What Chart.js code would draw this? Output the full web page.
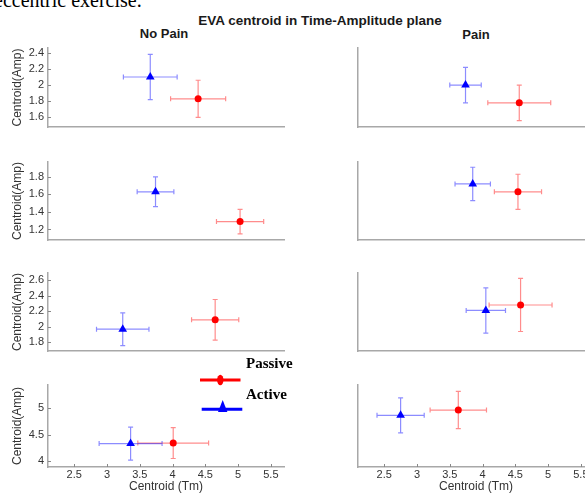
<!DOCTYPE html>
<html>
<head>
<meta charset="utf-8">
<script src="https://cdn.jsdelivr.net/npm/chart.js@4.4.0/dist/chart.umd.min.js"></script>
<style>
  html, body { margin: 0; padding: 0; background: #fff; }
  body { width: 585px; height: 494px; overflow: hidden; position: relative; font-family: "Liberation Sans", Arial, sans-serif; }
  .panel { position: absolute; }
  .txt { position: absolute; white-space: nowrap; color: #1a1a1a; }
  #legend { position: absolute; left: 190px; top: 350px; z-index: 5; }
</style>
</head>
<body>
<div class="txt" style="left:-6px; top:-10px; font:20px/20px 'Liberation Serif', serif; color:#000;">eccentric exercise.</div>
<div class="txt" style="left:120px; width:400px; top:13px; text-align:center; font:bold 13.5px/16px 'Liberation Sans', Arial, sans-serif;">EVA centroid in Time-Amplitude plane</div>
<div class="txt" style="left:64px; width:200px; top:26px; text-align:center; font:bold 13px/16px 'Liberation Sans', Arial, sans-serif;">No Pain</div>
<div class="txt" style="left:376px; width:200px; top:27px; text-align:center; font:bold 13px/16px 'Liberation Sans', Arial, sans-serif;">Pain</div>

<svg id="legend" width="110" height="66">
  <line x1="10" y1="30" x2="50.5" y2="30" stroke="#ff0000" stroke-width="3"/>
  <ellipse cx="30.3" cy="30" rx="3.2" ry="5.3" fill="#ff0000"/>
  <text x="56" y="18" font-family="'Liberation Serif', serif" font-weight="bold" font-size="15">Passive</text>
  <line x1="11.7" y1="59.3" x2="52.3" y2="59.3" stroke="#0000ff" stroke-width="3"/>
  <polygon points="32.7,50 28,62 37.4,62" fill="#0000ff"/>
  <text x="56" y="49" font-family="'Liberation Serif', serif" font-weight="bold" font-size="15">Active</text>
</svg>

<script>
// panels are numbered row by row: 0 = No Pain row 1, 1 = Pain row 1, ...
const activeX    = [3.66, 3.74, 3.74, 3.85, 3.24, 4.05, 3.36, 2.75];
const activeY    = [2.10, 2.00, 1.63, 1.72, 1.97, 2.21, 4.33, 4.86];
const activeXErr = [0.41, 0.24, 0.28, 0.27, 0.40, 0.30, 0.48, 0.36];
const activeYErr = [0.28, 0.22, 0.17, 0.19, 0.21, 0.29, 0.31, 0.33];

const passiveX    = [4.39, 4.56, 5.03, 4.54, 4.65, 4.58, 4.01, 3.63];
const passiveY    = [1.83, 1.78, 1.29, 1.63, 2.09, 2.28, 4.34, 4.96];
const passiveXErr = [0.42, 0.48, 0.36, 0.36, 0.36, 0.48, 0.54, 0.43];
const passiveYErr = [0.23, 0.22, 0.14, 0.20, 0.26, 0.34, 0.29, 0.35];

// axis ranges and tick labels
const xMin = 2.1, xMax = 5.7;
const xTicks = [2.5, 3, 3.5, 4, 4.5, 5, 5.5];
const yMin = [1.48, 1.08, 1.69, 3.89];
const yMax = [2.46, 1.97, 2.69, 5.43];
const yTicks = [
  [1.6, 1.8, 2, 2.2, 2.4],
  [1.2, 1.4, 1.6, 1.8],
  [1.8, 2, 2.2, 2.4, 2.6],
  [4, 4.5, 5]
];

// layout
const colLeft = [0, 300];
const yAxisW = [48, 58];
const plotW = 236;
const areaTop = [48, 162, 273, 385];
const areaBottom = [128, 241, 352, 467];
const axisColor = '#a8a8a8';

Chart.defaults.font.family = "'Liberation Sans', Arial, sans-serif";

// draws the error crosses under the markers
const errorBars = {
  id: 'errorBars',
  beforeDatasetsDraw(chart) {
    const { ctx, scales: { x, y } } = chart;
    const cap = 2.5;
    chart.data.datasets.forEach(ds => {
      ds.data.forEach(p => {
        const px = x.getPixelForValue(p.x), py = y.getPixelForValue(p.y);
        const x0 = x.getPixelForValue(p.x - p.xErr), x1 = x.getPixelForValue(p.x + p.xErr);
        const y0 = y.getPixelForValue(p.y - p.yErr), y1 = y.getPixelForValue(p.y + p.yErr);
        ctx.save();
        ctx.strokeStyle = ds.errColor;
        ctx.lineWidth = 1.2;
        ctx.beginPath();
        ctx.moveTo(x0, py); ctx.lineTo(x1, py);
        ctx.moveTo(px, y0); ctx.lineTo(px, y1);
        ctx.moveTo(x0, py - cap); ctx.lineTo(x0, py + cap);
        ctx.moveTo(x1, py - cap); ctx.lineTo(x1, py + cap);
        ctx.moveTo(px - cap, y0); ctx.lineTo(px + cap, y0);
        ctx.moveTo(px - cap, y1); ctx.lineTo(px + cap, y1);
        ctx.stroke();
        ctx.restore();
      });
    });
  }
};

// small ticks pointing into the plot, matlab style
const inwardTicks = {
  id: 'inwardTicks',
  afterDraw(chart) {
    const { ctx, chartArea: a, scales: { x, y } } = chart;
    ctx.save();
    ctx.strokeStyle = '#888';
    ctx.lineWidth = 1;
    ctx.beginPath();
    if (x.options.ticks.display) {
      x.ticks.forEach(t => {
        const px = Math.round(x.getPixelForValue(t.value)) + 0.5;
        ctx.moveTo(px, a.bottom); ctx.lineTo(px, a.bottom - 3);
      });
    }
    if (y.options.ticks.display) {
      y.ticks.forEach(t => {
        const py = Math.round(y.getPixelForValue(t.value)) + 0.5;
        ctx.moveTo(a.left, py); ctx.lineTo(a.left + 3, py);
      });
    }
    ctx.stroke();
    ctx.restore();
  }
};

const fmt = v => String(Math.round(v * 100) / 100);

function makePanel(i) {
  const r = Math.floor(i / 2), c = i % 2;
  const bottomRow = r === 3;
  const padTop = 8;
  const top = areaTop[r] - padTop;
  const height = bottomRow ? 494 - top : areaBottom[r] - top + 4;
  const xH = bottomRow ? 494 - areaBottom[r] : 0;
  const width = 300;

  const wrap = document.createElement('div');
  wrap.className = 'panel';
  wrap.style.left = colLeft[c] + 'px';
  wrap.style.top = top + 'px';
  wrap.style.width = width + 'px';
  wrap.style.height = height + 'px';
  const canvas = document.createElement('canvas');
  wrap.appendChild(canvas);
  document.body.appendChild(wrap);

  new Chart(canvas, {
    type: 'scatter',
    data: {
      datasets: [{
        label: 'Passive',
        data: [{ x: passiveX[i], y: passiveY[i], xErr: passiveXErr[i], yErr: passiveYErr[i] }],
        errColor: 'rgba(255, 0, 0, 0.45)',
        pointStyle: 'circle',
        pointRadius: 3.5,
        backgroundColor: '#ff0000',
        borderWidth: 0
      }, {
        label: 'Active',
        data: [{ x: activeX[i], y: activeY[i], xErr: activeXErr[i], yErr: activeYErr[i] }],
        errColor: 'rgba(0, 0, 255, 0.45)',
        pointStyle: 'triangle',
        pointRadius: 5,
        backgroundColor: '#0000ff',
        borderWidth: 0
      }]
    },
    options: {
      responsive: true,
      maintainAspectRatio: false,
      animation: false,
      layout: { padding: { top: padTop, right: width - yAxisW[c] - plotW, bottom: bottomRow ? 0 : 4, left: 0 } },
      plugins: { legend: { display: false }, tooltip: { enabled: false } },
      scales: {
        x: {
          type: 'linear',
          min: xMin,
          max: xMax,
          grid: { display: false, drawTicks: false },
          border: { color: axisColor, width: 1.5 },
          ticks: { display: bottomRow, padding: 1, color: '#333', font: { size: 11 }, callback: fmt },
          title: { display: bottomRow, text: 'Centroid (Tm)', color: '#333', font: { size: 12 }, padding: 0 },
          afterBuildTicks: s => { s.ticks = xTicks.map(v => ({ value: v })); },
          afterFit: s => { s.height = xH; s.paddingLeft = 0; s.paddingRight = 0; }
        },
        y: {
          type: 'linear',
          min: yMin[r],
          max: yMax[r],
          grid: { display: false, drawTicks: false },
          border: { color: axisColor, width: 1.5 },
          ticks: { display: c === 0, padding: 4, color: '#333', font: { size: 11 }, callback: fmt },
          title: { display: c === 0, text: 'Centroid(Amp)', color: '#333', font: { size: 12 }, padding: { top: 10.8, bottom: 0 } },
          afterBuildTicks: s => { s.ticks = yTicks[r].map(v => ({ value: v })); },
          afterFit: s => { s.width = yAxisW[c]; s.paddingTop = 0; s.paddingBottom = 0; }
        }
      }
    },
    plugins: [errorBars, inwardTicks]
  });
}

for (let i = 0; i < 8; i++) makePanel(i);
</script>
</body>
</html>
